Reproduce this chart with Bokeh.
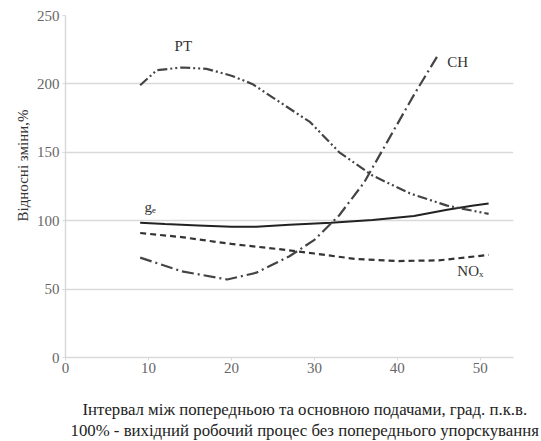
from bokeh.plotting import figure
from bokeh.models import Range1d, Label, FixedTicker, Title
from bokeh.embed import file_html
from bokeh.resources import INLINE

# Data
ge_x = [9, 12, 16, 20, 23, 27, 32, 37, 42, 46, 49, 51]
ge_y = [98.5, 97.5, 96.5, 95.5, 95.5, 97, 98.5, 100.5, 103.5, 108, 111, 112.5]
nox_x = [9, 14, 20, 26, 30, 35, 40, 45, 51]
nox_y = [91, 88, 83, 79, 76, 72, 70.5, 71, 75]
ch_x = [9, 14, 19.5, 23, 27, 30, 33, 36, 39, 42, 45]
ch_y = [73, 63, 57, 62, 74, 86, 104, 128, 160, 192, 222]
pt_x = [9, 11, 14, 17, 20, 22.5, 26, 29.5, 33, 37, 41.5, 46, 51]
pt_y = [199, 210, 212, 211, 206, 200, 186, 172, 150, 133, 120, 111, 105]

x_ticks = [0, 10, 20, 30, 40, 50]
y_ticks = [0, 50, 100, 150, 200, 250]

y_label = "Відносні зміни,%"
foot1 = "Інтервал між попередньою та основною подачами, град. п.к.в."
foot2 = "100% - вихідний робочий процес без попереднього упорскування"

FONT = "Liberation Serif"

p = figure(width=541, height=441, output_backend="svg", toolbar_location=None,
           x_range=Range1d(0, 54), y_range=Range1d(0, 250))
p.min_border_left = 65
p.min_border_right = 28
p.min_border_top = 15
p.min_border_bottom = 84
p.outline_line_color = None
p.background_fill_color = "white"

p.xgrid.grid_line_color = None
p.ygrid.grid_line_color = "#d9d9d9"
p.ygrid.grid_line_width = 1.5

p.xaxis.ticker = FixedTicker(ticks=x_ticks)
p.yaxis.ticker = FixedTicker(ticks=y_ticks)
for ax in (p.xaxis, p.yaxis):
    ax.major_tick_line_color = "#d9d9d9"
    ax.major_tick_in = 0
    ax.major_tick_out = 3
    ax.minor_tick_line_color = None
    ax.major_label_text_font = FONT
    ax.major_label_text_font_size = "15px"
    ax.major_label_text_color = "#666666"
    ax.axis_line_color = "#d9d9d9"
    ax.axis_line_width = 1.5
p.xaxis.major_label_standoff = 2
p.yaxis.major_label_standoff = 3

p.add_layout(Title(text=y_label, text_font=FONT, text_font_style="normal",
                   text_font_size="15px", text_color="#333333", align="left",
                   offset=136, standoff=5), "left")

lc = "#333333"
p.line(ge_x, ge_y, line_color="#222222", line_width=2)
p.line(nox_x, nox_y, line_color=lc, line_width=2.2, line_dash="6 4")
p.line(ch_x, ch_y, line_color="#444444", line_width=2.2, line_dash="12 4 2 4")
p.line(pt_x, pt_y, line_color="#444444", line_width=2.2, line_dash="10 3 2 3 2 3")

def lab(x, y, t, align="center"):
    p.add_layout(Label(x=x, y=y, text=t, text_font=FONT, text_font_size="15px",
                       text_color="#333333", text_align=align, text_baseline="middle"))

lab(14.2, 228, "PT")
lab(46, 216, "CH", "left")
lab(10.2, 110, "gₑ")
lab(48.8, 63, "NOₓ")

p.add_layout(Title(text=foot1, text_font=FONT, text_font_style="normal",
                   text_font_size="16.8px", text_color="#222222", align="left",
                   offset=17, standoff=0, padding=dict(top=22, right=0, bottom=0, left=0)),
             "below")
p.add_layout(Title(text=foot2, text_font=FONT, text_font_style="normal",
                   text_font_size="16.8px", text_color="#222222", align="left",
                   offset=5, standoff=0), "below")

open("out.html", "w").write(file_html(p, INLINE))
